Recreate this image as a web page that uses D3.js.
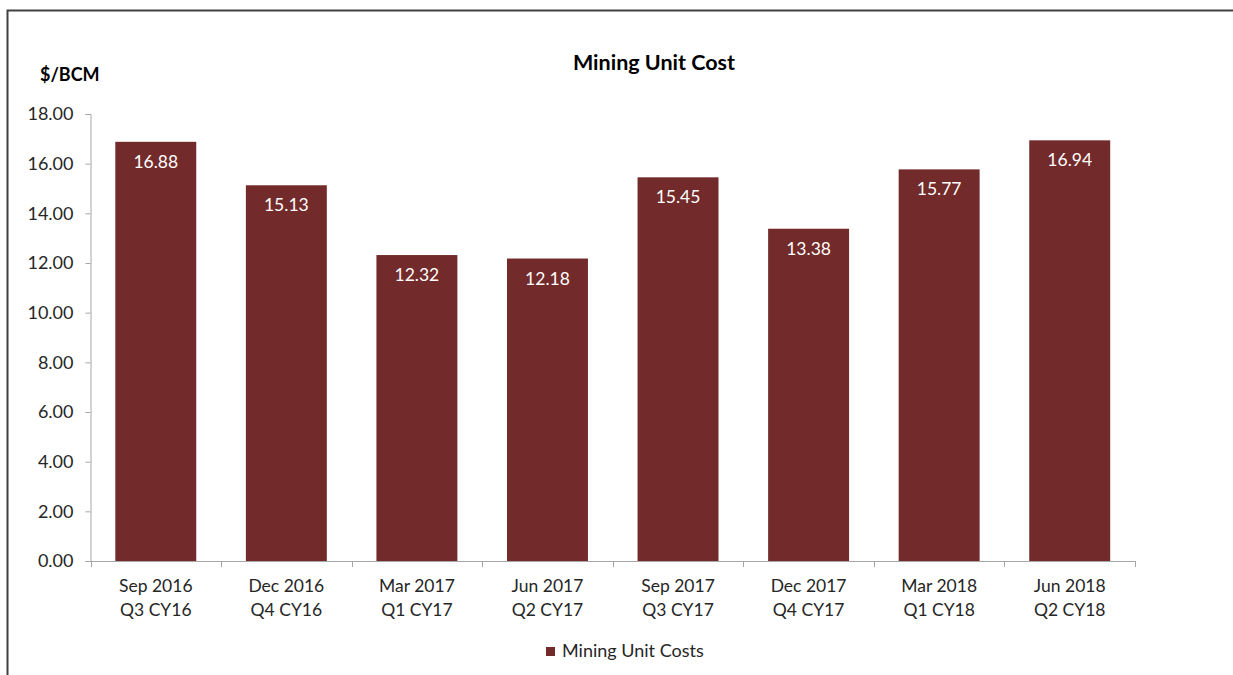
<!DOCTYPE html>
<html>
<head>
<meta charset="utf-8">
<script src="https://cdn.jsdelivr.net/npm/d3@7"></script>
<style>
  body { margin: 0; background: #fff; }
  #chart { width: 1233px; height: 675px; }
  text { font-family: Lato, "Open Sans", sans-serif; fill: #262626; }
</style>
</head>
<body>
<div id="chart"></div>
<script>
// chart data
const periods = ['Sep 2016', 'Dec 2016', 'Mar 2017', 'Jun 2017', 'Sep 2017', 'Dec 2017', 'Mar 2018', 'Jun 2018'];
const quarters = ['Q3 CY16', 'Q4 CY16', 'Q1 CY17', 'Q2 CY17', 'Q3 CY17', 'Q4 CY17', 'Q1 CY18', 'Q2 CY18'];
const unitCosts = [16.88, 15.13, 12.32, 12.18, 15.45, 13.38, 15.77, 16.94];
const yTicks = [0, 2, 4, 6, 8, 10, 12, 14, 16, 18];

const W = 1233, H = 675;
const MARGIN = {top: 114, right: 98, bottom: 114, left: 90.5};
const barColor = '#722A2A';

const svg = d3.select('#chart').append('svg')
    .attr('width', W)
    .attr('height', H);

// outer frame (top + left only visible)
svg.append('path')
    .attr('d', `M7.5,${H} L7.5,10.5 L${W},10.5`)
    .attr('fill', 'none')
    .attr('stroke', '#404040')
    .attr('stroke-width', 2);

const xScale = d3.scaleBand()
    .domain(periods)
    .range([MARGIN.left, W - MARGIN.right])
    .paddingInner(0.38)
    .paddingOuter(0.19);

const yScale = d3.scaleLinear()
    .domain([0, 18])
    .range([H - MARGIN.bottom, MARGIN.top]);

// title and unit label
svg.append('text')
    .attr('x', 654)
    .attr('y', 70)
    .attr('text-anchor', 'middle')
    .attr('font-size', '21.5px')
    .attr('font-weight', 'bold')
    .style('fill', '#000')
    .text('Mining Unit Cost');

svg.append('text')
    .attr('x', 40)
    .attr('y', 81)
    .attr('font-size', '18px')
    .attr('font-weight', 'bold')
    .style('fill', '#000')
    .text('$/BCM');

// bars
svg.append('g').selectAll('rect')
    .data(unitCosts)
    .enter()
    .append('rect')
    .attr('x', (d, i) => xScale(periods[i]))
    .attr('y', d => yScale(d))
    .attr('width', xScale.bandwidth())
    .attr('height', d => yScale(0) - yScale(d))
    .attr('fill', barColor);

// value labels
svg.append('g').selectAll('text')
    .data(unitCosts)
    .enter()
    .append('text')
    .attr('x', (d, i) => xScale(periods[i]) + xScale.bandwidth() / 2)
    .attr('y', d => yScale(d) + 26)
    .attr('text-anchor', 'middle')
    .attr('font-size', '17.5px')
    .style('fill', '#fff')
    .text(d => d3.format('.2f')(d));

// y axis
const yAxisGroup = svg.append('g')
    .attr('transform', `translate(${MARGIN.left}, 0)`)
    .call(d3.axisLeft(yScale)
        .tickValues(yTicks)
        .tickSize(5)
        .tickPadding(12)
        .tickFormat(d3.format('.2f')));
yAxisGroup.select('.domain').attr('stroke', '#A6A6A6');
yAxisGroup.selectAll('.tick line').attr('stroke', '#A6A6A6');
yAxisGroup.selectAll('.tick text')
    .attr('font-size', '18px')
    .attr('font-family', 'Lato, "Open Sans", sans-serif')
    .style('fill', '#262626');

// x axis
const x0 = yScale(0);
const xAxisGroup = svg.append('g');
xAxisGroup.append('line')
    .attr('x1', MARGIN.left - 5)
    .attr('x2', W - MARGIN.right)
    .attr('y1', x0 + 0.5)
    .attr('y2', x0 + 0.5)
    .attr('stroke', '#A6A6A6');

const step = xScale.step();
const boundaries = d3.range(periods.length + 1).map(i => MARGIN.left + i * step);
xAxisGroup.selectAll('.sep')
    .data(boundaries)
    .enter()
    .append('line')
    .attr('x1', d => Math.round(d) + 0.5)
    .attr('x2', d => Math.round(d) + 0.5)
    .attr('y1', x0)
    .attr('y2', x0 + 6)
    .attr('stroke', '#A6A6A6');

const catLabels = xAxisGroup.selectAll('.cat')
    .data(periods)
    .enter()
    .append('text')
    .attr('text-anchor', 'middle')
    .attr('font-size', '17.5px')
    .attr('x', d => xScale(d) + xScale.bandwidth() / 2);
catLabels.append('tspan')
    .attr('x', d => xScale(d) + xScale.bandwidth() / 2)
    .attr('y', x0 + 31)
    .text(d => d);
catLabels.append('tspan')
    .attr('x', d => xScale(d) + xScale.bandwidth() / 2)
    .attr('y', x0 + 55)
    .text((d, i) => quarters[i]);

// legend
const legend = svg.append('g')
    .attr('transform', 'translate(546, 647)');
legend.append('rect')
    .attr('width', 9)
    .attr('height', 9)
    .attr('fill', barColor);
legend.append('text')
    .attr('x', 16)
    .attr('y', 10)
    .attr('font-size', '18px')
    .text('Mining Unit Costs');
</script>
</body>
</html>
